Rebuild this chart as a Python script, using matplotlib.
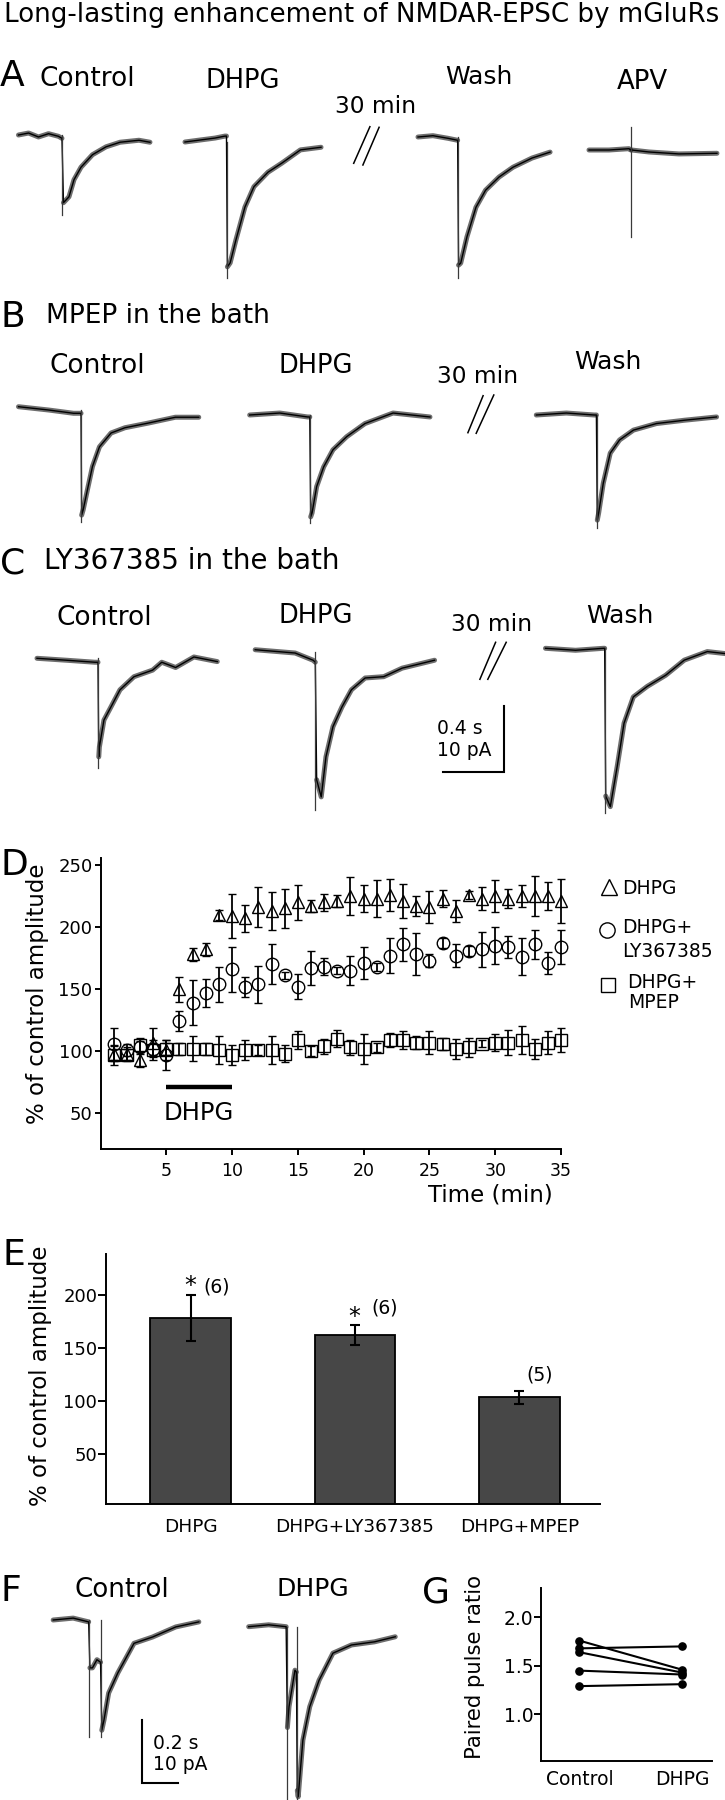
import numpy as np
import matplotlib
matplotlib.use("Agg")
import matplotlib.pyplot as plt

plt.rcParams['font.family'] = ['DejaVu Sans']

W, H, DPI = 725, 1800, 100

# ---------------------------------------------------------------- data
TITLE = "Long-lasting enhancement of NMDAR-EPSC by mGluRs"

# Panel D : % of control amplitude vs time (mean, s.e.m.)
time_min = np.arange(1, 36)
dhpg_mean = [98, 98, 93, 107, 101, 150, 178, 182, 210, 209, 207, 216, 213, 215, 220, 217, 220, 221,
             225, 223, 223, 226, 221, 217, 216, 223, 213, 226, 223, 225, 223, 225, 225, 225, 221]
dhpg_sem = [6, 5, 6, 12, 8, 10, 5, 5, 4, 18, 11, 16, 15, 16, 14, 5, 7, 5,
            15, 11, 15, 13, 14, 8, 13, 7, 9, 3, 9, 13, 8, 9, 16, 11, 18]
ly_mean = [106, 101, 103, 102, 97, 124, 139, 147, 154, 166, 152, 154, 170, 161, 152, 167, 168, 165,
           165, 171, 168, 177, 186, 178, 173, 187, 177, 181, 182, 185, 184, 176, 186, 171, 184]
ly_sem = [13, 5, 5, 5, 12, 8, 18, 11, 14, 18, 8, 15, 16, 3, 10, 14, 7, 3,
          12, 13, 3, 14, 13, 17, 5, 4, 9, 4, 14, 15, 9, 15, 12, 9, 14]
mpep_mean = [97, 97, 105, 101, 102, 102, 102, 102, 101, 97, 101, 101, 101, 98, 109, 100, 104, 110,
             103, 102, 103, 109, 109, 107, 107, 106, 102, 103, 106, 107, 107, 109, 102, 107, 109]
mpep_sem = [8, 5, 6, 8, 5, 5, 10, 5, 11, 8, 8, 4, 11, 7, 7, 4, 6, 7,
            6, 12, 4, 6, 7, 5, 9, 5, 8, 8, 3, 7, 10, 11, 8, 9, 10]
dhpg_window = [5, 10]
dhpg_bar_level = 71

# Panel E : summary bars
groups = ["DHPG", "DHPG+LY367385", "DHPG+MPEP"]
group_mean = [178, 162, 103]
group_sem = [22, 9, 6]
group_n = ["(6)", "(6)", "(5)"]
group_sig = ["*", "*", ""]

# Panel G : paired pulse ratio
ppr_conditions = ["Control", "DHPG"]
ppr_control = [1.76, 1.68, 1.64, 1.45, 1.29]
ppr_dhpg = [1.46, 1.70, 1.43, 1.41, 1.31]

# Example current traces (time in ms, current in pA relative to baseline)
A_control = dict(t=[0, 66, 131, 197, 262, 285, 295, 331, 364, 410, 485, 574, 666, 790, 862],
                 i=[0, 0.3, -0.3, 0.2, -0.2, -0.5, -10.3, -9.4, -6.8, -4.9, -3.0, -1.8, -1.1, -0.8, -1.1],
                 stim=[287], art=[-12.2])
A_dhpg = dict(t=[0, 98, 197, 262, 272, 278, 296, 334, 393, 452, 544, 636, 757, 892],
              i=[0, 0.3, 0.6, 0.9, 0.9, -19.0, -18.4, -14.9, -9.9, -6.8, -4.6, -3.2, -1.2, -0.8],
              stim=[274], art=[-20.7])
A_wash = dict(t=[0, 98, 197, 260, 266, 280, 321, 380, 443, 531, 623, 748, 866],
              i=[0, 0.2, -0.2, -0.5, -19.5, -19.2, -15.2, -10.7, -8.1, -6.1, -4.6, -3.2, -2.3],
              stim=[262], art=[-21.5])
A_apv = dict(t=[0, 131, 262, 274, 279, 393, 590, 839],
             i=[0, 0, 0.2, 0, 0, -0.3, -0.6, -0.5],
             stim=[276], art=[-13.2], art_top=[3.5])
B_control = dict(t=[0, 197, 361, 410, 414, 424, 456, 485, 531, 607, 698, 849, 1029, 1182],
                 i=[0.5, 0, -0.5, -0.5, -16.0, -15.2, -11.7, -8.6, -5.6, -3.5, -2.7, -2.0, -1.1, -1.1],
                 stim=[411], art=[-17.0])
B_dhpg = dict(t=[0, 197, 380, 394, 400, 409, 439, 485, 546, 636, 756, 940, 1182],
              i=[0, 0.3, -0.3, -0.3, -15.5, -14.9, -10.9, -7.9, -5.3, -3.3, -1.3, 0.3, -0.3],
              stim=[395], art=[-16.5])
B_wash = dict(t=[0, 197, 380, 394, 400, 409, 439, 485, 546, 637, 788, 970, 1182],
              i=[0, 0.3, 0, 0, -16.0, -14.9, -10.4, -5.8, -3.8, -2.3, -1.3, -0.8, -0.3],
              stim=[395], art=[-17.2])
C_control = dict(t=[0, 197, 380, 400, 405, 409, 439, 485, 544, 636, 758, 818, 909, 1029, 1182],
                 i=[0, -0.3, -0.6, -0.6, -15.0, -13.5, -9.4, -7.4, -4.8, -2.8, -1.8, -0.6, -1.4, 0.2, -0.5],
                 stim=[401], art=[-16.7])
C_dhpg = dict(t=[0, 262, 380, 394, 403, 433, 464, 510, 569, 631, 721, 843, 964, 1176],
              i=[0.3, -0.2, -1.3, -1.6, -19.5, -22.1, -16.0, -11.4, -8.4, -5.8, -4.0, -3.8, -2.5, -1.3],
              stim=[395], art=[-24.1])
C_wash = dict(t=[0, 197, 380, 388, 395, 425, 470, 515, 576, 667, 788, 910, 1061, 1177],
              i=[0, -0.3, 0, 0, -22.5, -24.1, -18.0, -11.4, -7.4, -5.8, -4.1, -1.8, -0.5, -0.8],
              stim=[389], art=[-25.1])
F_control = dict(t=[0, 111, 197, 204, 218, 243, 263, 270, 282, 308, 359, 449, 552, 681, 809],
                 i=[0, 0.3, -0.3, -7.6, -7.6, -6.3, -6.7, -17.5, -15.9, -11.6, -8.4, -3.7, -2.7, -1.1, -0.3],
                 stim=[200, 266], art=[-18.5, -18.5])
F_dhpg = dict(t=[0, 111, 208, 215, 224, 257, 265, 270, 275, 301, 339, 391, 468, 571, 699, 814],
              i=[0, 0.3, 0, -16.0, -12.7, -6.9, -7.2, -26.0, -27.0, -18.0, -12.7, -8.5, -4.2, -2.9, -2.4, -1.6],
              stim=[211, 267], art=[-27.5, -27.5])

scale_ABC = ("0.4 s", 400, "10 pA", 10)
scale_F = ("0.2 s", 200, "10 pA", 10)

# ---------------------------------------------------------------- figure
fig = plt.figure(figsize=(W / DPI, H / DPI), dpi=DPI)


def px_axes(left, top, right, bottom):
    return fig.add_axes([left / W, 1 - bottom / H, (right - left) / W, (bottom - top) / H])


def scaled_axes(left, base, pxs, pxa, w_px, up_px=60, down_px=200, pre_px=10):
    ax = px_axes(left - pre_px, base - up_px, left + w_px, base + down_px)
    ax.set_xlim(-pre_px / pxs * 1000, w_px / pxs * 1000)
    ax.set_ylim(-down_px / pxa, up_px / pxa)
    ax.axis('off')
    return ax


def draw_trace(tr, left, base, pxs, pxa):
    t = np.asarray(tr['t'], float)
    i = np.asarray(tr['i'], float)
    ax = scaled_axes(left, base, pxs, pxa, t[-1] / 1000 * pxs + 2)
    edges = [-np.inf] + list(tr['stim']) + [np.inf]
    for a, b in zip(edges[:-1], edges[1:]):
        m = (t > a) & (t < b)
        ax.plot(t[m], i[m], color='#303030', lw=3.6, alpha=0.7,
                solid_joinstyle='round', solid_capstyle='round', clip_on=False)
    ax.plot(t, i, color='black', lw=1.0, clip_on=False)
    tops = tr.get('art_top', [0] * len(tr['stim']))
    for s, lo, hi in zip(tr['stim'], tr['art'], tops):
        ax.plot([s, s], [hi, lo], color='#3a3a3a', lw=0.9, clip_on=False)


# traces: rows A, B, C (0.4 s = 61 px, 10 pA = 65.7 px), row F
PXS_ABC, PXA_ABC = 152.5, 6.57
PXS_F, PXA_F = 180.0, 6.3
for tr, l, b in [(A_control, 18.5, 135), (A_dhpg, 185, 142), (A_wash, 418, 137), (A_apv, 589, 150),
                 (B_control, 18.5, 410), (B_dhpg, 249.7, 415), (B_wash, 536.3, 415),
                 (C_control, 37, 658.3), (C_dhpg, 255.2, 651.7), (C_wash, 545.5, 648.3)]:
    draw_trace(tr, l, b, PXS_ABC, PXA_ABC)
for tr, l, b in [(F_control, 53.2, 1620), (F_dhpg, 248.7, 1626.7)]:
    draw_trace(tr, l, b, PXS_F, PXA_F)

# scale bars
sb = scaled_axes(443, 772, PXS_ABC, PXA_ABC, 80, up_px=80, down_px=10)
sb.plot([0, scale_ABC[1], scale_ABC[1]], [0, 0, scale_ABC[3]], color='black', lw=1.5,
        solid_capstyle='projecting', solid_joinstyle='miter')
sbf = scaled_axes(142, 1783, PXS_F, PXA_F, 60, up_px=80, down_px=10)
sbf.plot([0, 0, scale_F[1]], [scale_F[3], 0, 0], color='black', lw=1.5,
         solid_capstyle='projecting', solid_joinstyle='miter')

# ---------------- Panel D
axD = px_axes(100.5, 858.3, 561, 1149.3)
axD.set_xlim(0, 35)
axD.set_ylim(21, 255.4)
for s in ('top', 'right'):
    axD.spines[s].set_visible(False)
for s in ('left', 'bottom'):
    axD.spines[s].set_linewidth(1.4)
axD.set_xticks([5, 10, 15, 20, 25, 30, 35])
axD.set_yticks([50, 100, 150, 200, 250])
axD.tick_params(axis='both', direction='out', width=1.4, length=4.3)
axD.tick_params(axis='x', labelsize=12.5, pad=5)
axD.tick_params(axis='y', labelsize=13, pad=1.5)
eb = dict(mfc='none', mec='black', mew=1.0, ecolor='black', elinewidth=1.3,
          capsize=3, capthick=1.3, color='black', linestyle='none', clip_on=False)
axD.errorbar(time_min, mpep_mean, yerr=mpep_sem, marker='s', ms=8.5, **eb)
axD.errorbar(time_min, ly_mean, yerr=ly_sem, marker='o', ms=9, **eb)
axD.errorbar(time_min, dhpg_mean, yerr=dhpg_sem, marker='^', ms=9, **eb)
axD.plot(dhpg_window, [dhpg_bar_level] * 2, color='black', lw=3.2, solid_capstyle='butt')
axD.text(np.mean(dhpg_window) - 0.05, 50, "DHPG", ha='center', va='center', fontsize=17.5)

# ---------------- Panel E
axE = px_axes(106, 1254, 600, 1504)
xE = np.arange(len(groups))
axE.bar(xE, group_mean, width=0.49, color='#474747', edgecolor='black', linewidth=1.3, zorder=2)
axE.errorbar(xE, group_mean, yerr=group_sem, fmt='none', ecolor='black', elinewidth=1.5,
             capsize=3.5, capthick=1.5, zorder=3)
axE.set_xlim(-0.514, 2.49)
axE.set_ylim(2.5, 238.4)
for s in ('top', 'right'):
    axE.spines[s].set_visible(False)
for s in ('left', 'bottom'):
    axE.spines[s].set_linewidth(1.4)
axE.set_yticks([50, 100, 150, 200])
axE.set_xticks(xE)
axE.set_xticklabels(groups)
axE.tick_params(axis='y', direction='out', width=1.4, length=5.5, labelsize=13, pad=0.8)
axE.tick_params(axis='x', length=0, labelsize=13.3, pad=10)
star_off = [(0, 2), (-1, 1)]          # px offsets (x, baseline above error top)
n_off = [(12.5, 7.5), (16.7, 17), (7.2, 16)]  # px offsets (left edge, centre above error top)
for k in range(len(groups)):
    top = group_mean[k] + group_sem[k]
    if group_sig[k]:
        dx, dy = star_off[k]
        axE.annotate(group_sig[k], (xE[k], top), xytext=(dx * 0.72, dy * 0.72),
                     textcoords='offset points', ha='center', va='baseline', fontsize=17)
    dx, dy = n_off[k]
    axE.annotate(group_n[k], (xE[k], top), xytext=(dx * 0.72, dy * 0.72),
                 textcoords='offset points', ha='left', va='center', fontsize=13.5)

# ---------------- Panel G
axG = px_axes(541, 1588.3, 711.7, 1760.7)
for c, d in zip(ppr_control, ppr_dhpg):
    axG.plot([0, 1], [c, d], '-o', color='black', lw=1.5, ms=5.2, clip_on=False)
axG.set_xlim(-0.374, 1.29)
axG.set_ylim(0.52, 2.30)
for s in ('top', 'right'):
    axG.spines[s].set_visible(False)
for s in ('left', 'bottom'):
    axG.spines[s].set_linewidth(1.4)
axG.set_yticks([1.0, 1.5, 2.0])
axG.set_yticklabels(["1.0", "1.5", "2.0"])
axG.set_xticks([0, 1])
axG.set_xticklabels(ppr_conditions)
axG.tick_params(axis='y', direction='out', width=1.4, length=5, labelsize=13.5, pad=0.5)
axG.tick_params(axis='x', length=0, labelsize=13.5, pad=7)

# ---------------- overlay for labels / decorations
ov = fig.add_axes([0, 0, 1, 1], zorder=10)
ov.set_xlim(0, W)
ov.set_ylim(H, 0)
ov.axis('off')
ov.patch.set_visible(False)


def T(x, y, s, fs, ha='left', **kw):
    """y = vertical centre of capital letters (px)."""
    base = y + 0.729 * fs * DPI / 72 / 2
    ov.text(x, base, s, fontsize=fs, ha=ha, va='baseline', **kw)


T(362, 12.5, TITLE, 18.8, ha='center')
for letter, x, y in [("A", 0, 73), ("B", 0, 314), ("C", 0, 560), ("D", 0, 862),
                     ("E", 3, 1252), ("F", 0, 1588), ("G", 422, 1589.5)]:
    T(x, y, letter, 26)

# row A
T(87.5, 76, "Control", 19, ha='center')
T(243, 79, "DHPG", 18.5, ha='center')
T(375.5, 104, "30 min", 16.8, ha='center')
T(478.5, 75, "Wash", 18, ha='center')
T(642.5, 80, "APV", 18.7, ha='center')
# row B
T(46, 313, "MPEP in the bath", 19)
T(97, 363, "Control", 19, ha='center')
T(315.5, 364, "DHPG", 18.5, ha='center')
T(477.5, 374, "30 min", 16.8, ha='center')
T(608, 360, "Wash", 18, ha='center')
# row C
T(44, 559, "LY367385 in the bath", 20)
T(104, 615, "Control", 19, ha='center')
T(315.5, 614, "DHPG", 18.5, ha='center')
T(491.5, 622, "30 min", 16.8, ha='center')
T(619.5, 614, "Wash", 18, ha='center')
T(437, 727, scale_ABC[0], 13.5)
T(437, 749, scale_ABC[2], 13.5)
# row F
T(121.5, 1587, "Control", 18.8, ha='center')
T(313, 1587, "DHPG", 18, ha='center')
T(153, 1742, scale_F[0], 13.5)
T(153, 1763, scale_F[2], 13.5)

# "//" time-break marks
for (x1, y1, x2, y2) in [(353.7, 163.3, 369.9, 126.7), (362.9, 165, 379.1, 127.3),
                         (467.9, 432.7, 483.1, 395.7), (476.2, 433.3, 493.8, 395),
                         (479.9, 679.3, 495.6, 642.3), (487.8, 679.3, 506.2, 642.3)]:
    ov.plot([x1, x2], [y1, y2], color='black', lw=1.1)

# axis titles
ov.text(38, 994, "% of control amplitude", rotation=90, ha='center', va='center', fontsize=16.5)
ov.text(41, 1376, "% of control amplitude", rotation=90, ha='center', va='center', fontsize=16.5)
ov.text(475, 1667, "Paired pulse ratio", rotation=90, ha='center', va='center', fontsize=15.2)
T(490, 1193, "Time (min)", 16.5, ha='center')

# legend of panel D
lk = dict(mfc='none', mec='black', mew=1.0, linestyle='none')
ov.plot([608.7], [887], marker='^', ms=11, **lk)
ov.plot([607.5], [930], marker='o', ms=11, **lk)
ov.plot([608], [985], marker='s', ms=10.5, **lk)
T(621.7, 887.5, "DHPG", 13.5)
T(621.7, 926, "DHPG+", 13.5)
T(621.7, 950, "LY367385", 13.5)
T(626.7, 981, "DHPG+", 13.5)
T(628, 1001, "MPEP", 13.5)

fig.savefig("out.png", dpi=DPI)
